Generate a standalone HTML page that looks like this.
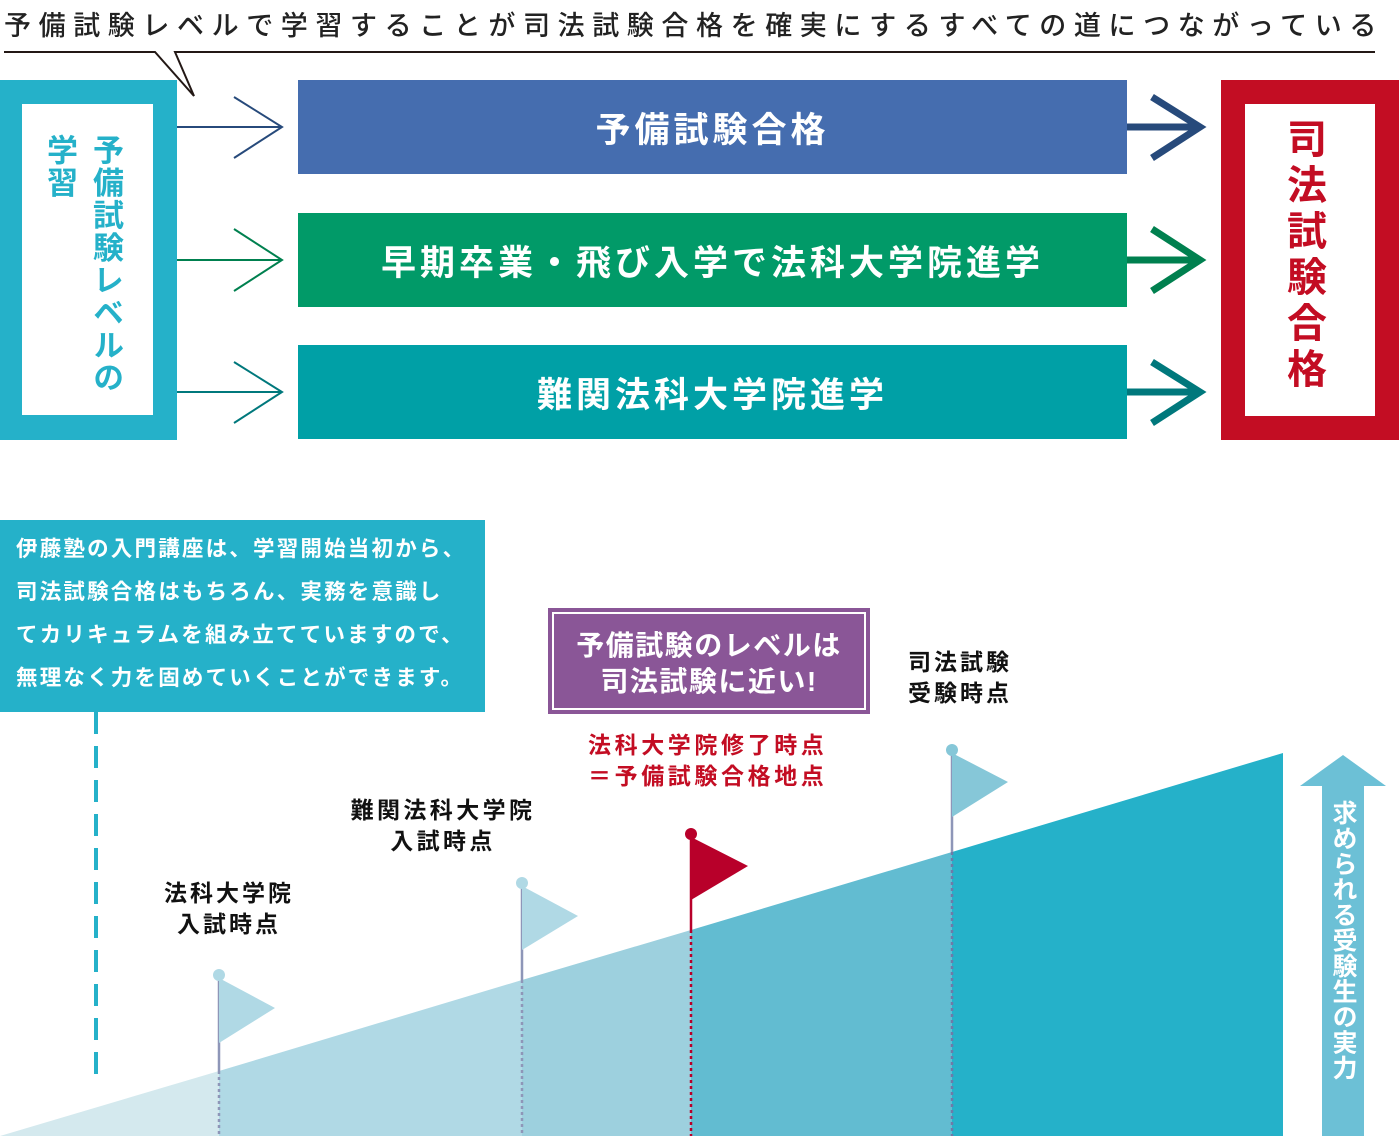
<!DOCTYPE html>
<html><head><meta charset="utf-8"><style>
*{margin:0;padding:0;box-sizing:border-box}
body{width:1400px;height:1136px;position:relative;background:#fff;overflow:hidden;font-family:"Liberation Sans","Noto Sans CJK JP",sans-serif}
.a{position:absolute}
.bar{position:absolute;left:298px;width:829px;height:94px;color:#fff;font-size:35px;font-weight:bold;letter-spacing:4px;display:flex;align-items:center;justify-content:center}
.v{writing-mode:vertical-rl;font-weight:bold}
</style></head><body>
<div class="a" style="left:4px;top:4px;font-size:27px;letter-spacing:7.6px;color:#222;white-space:nowrap;font-weight:500">予備試験レベルで学習することが司法試験合格を確実にするすべての道につながっている</div>
<svg class="a" style="left:0;top:0" width="1400" height="1136">
<polyline points="4,52 155,52 194,96 175,52 1375,52" fill="none" stroke="#231815" stroke-width="2"/>
<g fill="none" stroke-width="2">
<path d="M177,127H282M234,97L282,127L234,158" stroke="#274a7b"/>
<path d="M177,260H282M234,229L282,260L234,291" stroke="#00804f"/>
<path d="M177,392H282M234,362L282,392L234,423" stroke="#00787c"/>
</g>
<g fill="none" stroke-width="7">
<path d="M1127,127H1200M1152,97L1200,127L1152,158" stroke="#274a7b"/>
<path d="M1127,260H1200M1152,229L1200,260L1152,291" stroke="#00804f"/>
<path d="M1127,392H1200M1152,362L1200,392L1152,423" stroke="#00787c"/>
</g>
<polygon points="0,1136 219,1071 219,1136" fill="#d4e9ee"/>
<polygon points="219,1071 522,980 522,1136 219,1136" fill="#b0d9e5"/>
<polygon points="522,980 691,930 691,1136 522,1136" fill="#9dd0de"/>
<polygon points="691,930 952,852 952,1136 691,1136" fill="#62bcd1"/>
<polygon points="952,852 1283,753 1283,1136 952,1136" fill="#25b1c9"/>
<line x1="96" y1="712" x2="96" y2="1078" stroke="#25b1c9" stroke-width="4" stroke-dasharray="22,12"/>
<g stroke-width="2.5">
<line x1="219" y1="975" x2="219" y2="1071" stroke="#8e96b8"/>
<line x1="219" y1="1071" x2="219" y2="1136" stroke="#8e96b8" stroke-dasharray="3,3"/>
<line x1="522" y1="883" x2="522" y2="980" stroke="#8e96b8"/>
<line x1="522" y1="980" x2="522" y2="1136" stroke="#8e96b8" stroke-dasharray="3,3"/>
<line x1="691" y1="834" x2="691" y2="930" stroke="#b8002a"/>
<line x1="691" y1="930" x2="691" y2="1136" stroke="#b8002a" stroke-dasharray="3,3"/>
<line x1="952" y1="750" x2="952" y2="852" stroke="#8e96b8"/>
<line x1="952" y1="852" x2="952" y2="1136" stroke="#6e7aa8" stroke-dasharray="3,3"/>
</g>
<circle cx="219" cy="975" r="6" fill="#b0d9e5"/><polygon points="219,978 275,1008 219,1043" fill="#b0d9e5"/>
<circle cx="522" cy="883" r="6" fill="#b0d9e5"/><polygon points="522,886 578,916 522,950" fill="#b0d9e5"/>
<circle cx="691" cy="834" r="6" fill="#b8002a"/><polygon points="691,837 748,866 691,900" fill="#b8002a"/>
<circle cx="952" cy="750" r="6" fill="#86c7d8"/><polygon points="952,753 1008,782 952,817" fill="#86c7d8"/>
<polygon points="1343,755 1386,786 1364,786 1364,1136 1322,1136 1322,786 1300,786" fill="#6cc0d6"/>
</svg>
<div class="a" style="left:0;top:80px;width:177px;height:360px;background:#25b1c9"></div>
<div class="a" style="left:22px;top:104px;width:131px;height:311px;background:#fff"></div>
<div class="a v" style="left:36px;top:134px;font-size:31px;line-height:46px;color:#25b1c9;height:270px;letter-spacing:1.5px">予備試験レベルの<br>学習</div>
<div class="bar" style="top:80px;background:#456daf">予備試験合格</div>
<div class="bar" style="top:213px;background:#019a68">早期卒業・飛び入学で法科大学院進学</div>
<div class="bar" style="top:345px;background:#00a0a6">難関法科大学院進学</div>
<div class="a" style="left:1221px;top:80px;width:178px;height:360px;background:#c30d23"></div>
<div class="a" style="left:1245px;top:104px;width:130px;height:312px;background:#fff"></div>
<div class="a v" style="left:1278px;top:118px;font-size:40px;line-height:50px;color:#c30d23;letter-spacing:6px">司法試験合格</div>
<div class="a" style="left:0;top:520px;width:485px;height:192px;background:#25b1c9;color:#fff;font-weight:bold;font-size:21.5px;letter-spacing:2.2px;line-height:43px;padding:8px 0 0 16px;white-space:nowrap">伊藤塾の入門講座は、学習開始当初から、<br>司法試験合格はもちろん、実務を意識し<br>てカリキュラムを組み立てていますので、<br>無理なく力を固めていくことができます。</div>
<div class="a" style="left:548px;top:608px;width:322px;height:106px;background:#8a5697;padding:4px"><div style="width:100%;height:100%;border:2px solid #fff;color:#fff;font-weight:bold;font-size:28px;letter-spacing:1.5px;line-height:36px;text-align:center;padding-top:14px">予備試験のレベルは<br>司法試験に近い!</div></div>
<div class="a" style="left:908px;top:647px;font-size:23px;letter-spacing:3px;font-weight:bold;line-height:31px;color:#111">司法試験<br>受験時点</div>
<div class="a" style="left:588px;top:730px;font-size:23px;letter-spacing:3.6px;font-weight:bold;line-height:31px;color:#c30d23">法科大学院修了時点<br>＝予備試験合格地点</div>
<div class="a" style="left:348px;top:795px;width:190px;font-size:23px;letter-spacing:3.4px;font-weight:bold;line-height:31px;color:#111;text-align:center">難関法科大学院<br>入試時点</div>
<div class="a" style="left:160px;top:878px;width:138px;font-size:23px;letter-spacing:3px;font-weight:bold;line-height:31px;color:#111;text-align:center">法科大学院<br>入試時点</div>
<div class="a v" style="left:1327px;top:800px;font-size:25px;line-height:32px;color:#fff;letter-spacing:0.5px">求められる受験生の実力</div>
</body></html>
